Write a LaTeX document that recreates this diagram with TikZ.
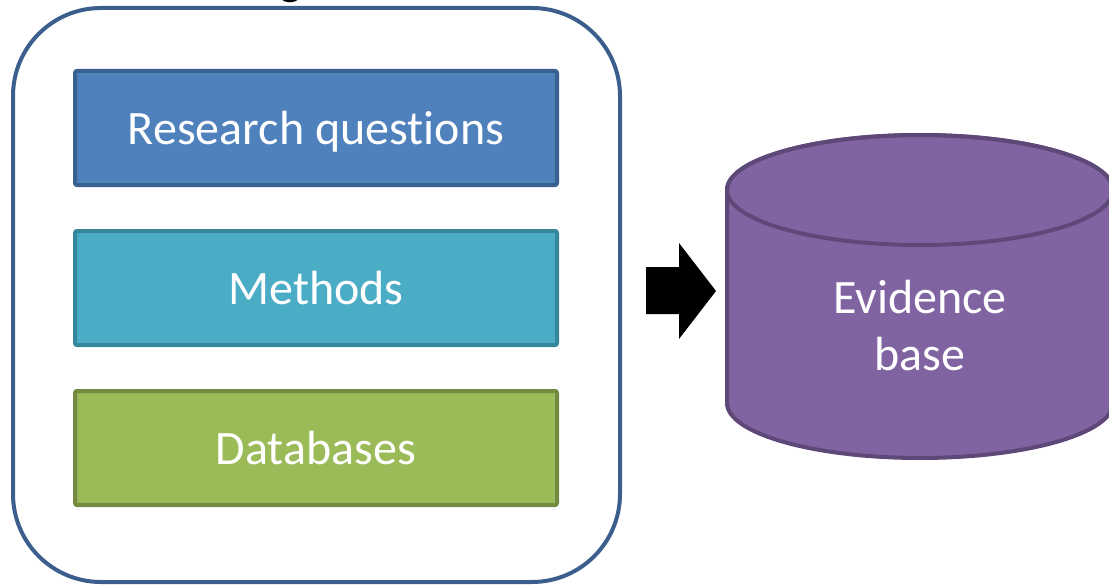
\documentclass[tikz,border=0pt]{standalone}
\usepackage{fontspec}
\setmainfont{Carlito}[Ligatures=NoCommon]
\definecolor{frameblue}{HTML}{3B5E8C}
\definecolor{rqfill}{HTML}{4F81BD}
\definecolor{rqline}{HTML}{3A6291}
\definecolor{mfill}{HTML}{4BACC6}
\definecolor{mline}{HTML}{36879C}
\definecolor{dbfill}{HTML}{9BBB59}
\definecolor{dbline}{HTML}{748A40}
\definecolor{evfill}{HTML}{8064A2}
\definecolor{evline}{HTML}{5D4878}
\tikzset{
  x=1pt, y=-1pt,
  stagebox/.style={draw=#1, line width=4pt, rounded corners=2pt, minimum width=482pt,
    minimum height=114pt, inner sep=0pt, text height=32pt, text depth=0pt,
    text=white, font=\fontsize{48}{53}\selectfont},
  bigtext/.style={text=white, font=\fontsize{48}{57}\selectfont, align=center}
}
\begin{document}
\begin{tikzpicture}
\useasboundingbox (0,0) rectangle (1109,586);
% heading above the frame, mostly cropped away
\begin{scope}
  \clip (0,0) rectangle (1109,586);
  \node[anchor=base, inner sep=0pt, font=\fontsize{48}{53}\selectfont] (heading) at (291,-5) {g};
\end{scope}
% outer frame holding the three inputs
\draw[frameblue, line width=4pt, rounded corners=88pt] (13,8) rectangle (620,582);
\node[stagebox=rqline, fill=rqfill] (rq) at (316,128) {Research questions};
\node[stagebox=mline, fill=mfill] (meth) at (316,288) {Methods};
\node[stagebox=dbline, fill=dbfill] (db) at (316,448) {Databases};
% block arrow towards the evidence base
\fill[black] (646,267) -- (679,267) -- (679,243) -- (716,291) -- (679,339) -- (679,314) -- (646,314) -- cycle;
% evidence base cylinder
\draw[evline, fill=evfill, line width=4pt]
  (727,190) -- (727,403) arc[start angle=180, end angle=360, x radius=193, y radius=-55]
  -- (1113,190) arc[start angle=0, end angle=180, x radius=193, y radius=-55] -- cycle;
\draw[evline, line width=4pt] (920,190) ellipse[x radius=193, y radius=55];
\node[bigtext] (ev) at (920,326) {Evidence\\base};
\end{tikzpicture}
\end{document}
